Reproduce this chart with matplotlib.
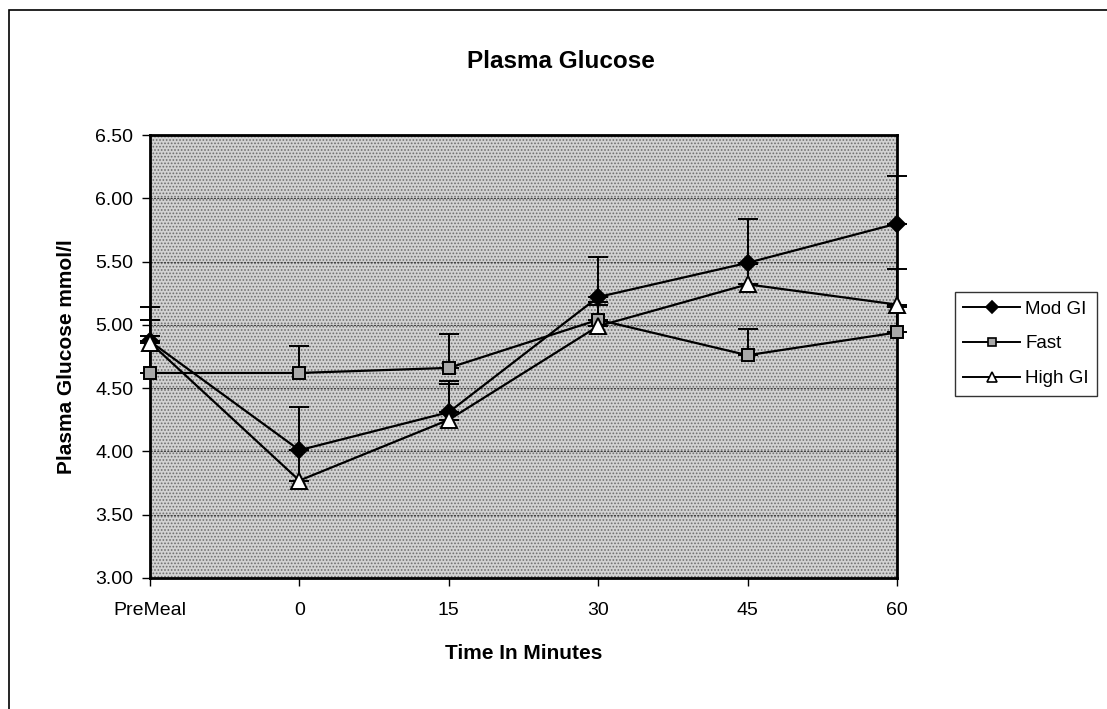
import numpy as np
import matplotlib.pyplot as plt
from matplotlib.patches import Rectangle
from matplotlib.lines import Line2D

plt.rcParams['font.family'] = ['Liberation Sans', 'DejaVu Sans']
plt.rcParams['hatch.linewidth'] = 0.8

times = ["PreMeal", "0", "15", "30", "45", "60"]
mod_gi = [4.87, 4.01, 4.31, 5.22, 5.49, 5.80]
mod_gi_err = [0.27, 0.34, 0.25, 0.32, 0.35, 0.38]
fast = [4.62, 4.62, 4.66, 5.04, 4.76, 4.94]
fast_err = [0.29, 0.21, 0.27, 0.14, 0.21, 0.20]
high_gi = [4.86, 3.77, 4.25, 4.99, 5.32, 5.16]
high_gi_err = [0.18, 0.24, 0.28, 0.17, 0.16, 0.28]

fig = plt.figure(figsize=(11.07, 7.09), dpi=100)
ax = fig.add_axes([150/1107, 1-578/709, (897-150)/1107, (578-135)/709])

# stippled plot area
ax.set_facecolor('#d2d2d2')
ax.add_patch(Rectangle((0, 0), 1, 1, transform=ax.transAxes, facecolor='none',
                       edgecolor='#6e6e6e', hatch='.....', linewidth=0, zorder=0))

x = np.arange(len(times))

series = [
    (mod_gi, mod_gi_err, "Mod GI", dict(marker='D', markerfacecolor='black'), 8, 6),
    (fast, fast_err, "Fast", dict(marker='s', markerfacecolor='#a8a8a8'), 9, 6),
    (high_gi, high_gi_err, "High GI", dict(marker='^', markerfacecolor='white'), 11, 7),
]
handles = []
for vals, err, name, st, ms, lms in series:
    ax.errorbar(x, vals, yerr=[np.zeros(len(err)), err], fmt='none', ecolor='black',
                elinewidth=1.4, capsize=7, capthick=1.4, clip_on=False, zorder=3)
    ax.plot(x, vals, color='black', linewidth=1.6, markersize=ms, markeredgecolor='black',
            markeredgewidth=1.4, clip_on=False, zorder=4, **st)
    handles.append(Line2D([], [], color='black', linewidth=1.4, markersize=lms,
                          markeredgecolor='black', markeredgewidth=1.2, label=name, **st))

ax.set_xlim(0, 5)
ax.set_ylim(3.0, 6.5)
yt = np.arange(3.0, 6.51, 0.5)
ax.set_yticks(yt)
ax.set_yticklabels([f"{v:.2f}" for v in yt])
ax.set_xticks(x)
ax.set_xticklabels(times)
ax.tick_params(direction='out', length=6, width=1, labelsize=14, pad=6)
ax.tick_params(axis='x', pad=11)
ax.grid(axis='y', color='#444444', linewidth=0.8, linestyle=(0, (2, 1)))
ax.set_axisbelow(True)
for s in ax.spines.values():
    s.set_linewidth(2)

fig.text(561/1107, 1-61/709, "Plasma Glucose", fontsize=17.5, fontweight='bold',
         ha='center', va='center')
ax.set_xlabel("Time In Minutes", fontsize=15, fontweight='bold', labelpad=18)
ax.set_ylabel("Plasma Glucose mmol/l", fontsize=15, fontweight='bold', labelpad=14)

leg = fig.legend(handles=handles, loc='upper left', bbox_to_anchor=(955/1107, 1-292/709),
                 fontsize=13.5, frameon=True, fancybox=False, edgecolor='black',
                 handlelength=3.0, borderpad=0.45, labelspacing=0.95, handletextpad=0.3,
                 borderaxespad=0)
leg.get_frame().set_linewidth(1)

fig.patches.append(Rectangle((9/1107, -0.01), 1.0, 1-10/709 + 0.01,
                             transform=fig.transFigure, fill=False,
                             edgecolor='black', linewidth=1.2))

fig.savefig("out.png", dpi=100)
